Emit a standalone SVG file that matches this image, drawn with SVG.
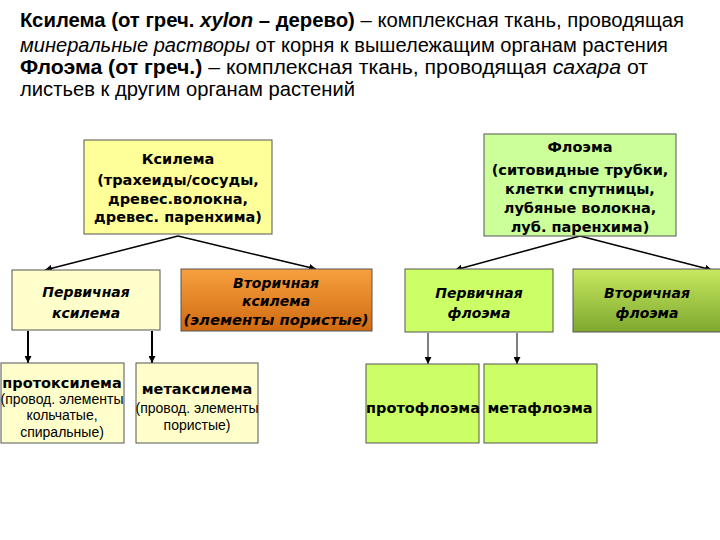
<svg xmlns="http://www.w3.org/2000/svg" width="720" height="540" viewBox="0 0 720 540">
<defs>
<linearGradient id="gOr" x1="0" y1="0" x2="0" y2="1"><stop offset="0" stop-color="#F7A040"/><stop offset="1" stop-color="#D06A10"/></linearGradient>
<linearGradient id="gGr" x1="0" y1="0" x2="0" y2="1"><stop offset="0" stop-color="#C8E860"/><stop offset="1" stop-color="#7DA82E"/></linearGradient>
<marker id="ah" viewBox="0 0 10 10" refX="10" refY="5" markerWidth="7" markerHeight="7" orient="auto" markerUnits="userSpaceOnUse"><path d="M0,0 L10,5 L0,10 z" fill="#000"/></marker>
</defs>
<style>
.hd{font-family:"Liberation Sans",Arial,sans-serif;font-size:20px;fill:#000}
.b{font-weight:bold}
.i{font-style:italic}
.bx{stroke:#555;stroke-width:1}
.vb{font-family:"DejaVu Sans",Verdana,sans-serif;font-weight:bold;font-size:14.5px;fill:#000;text-anchor:middle}
.vi{font-family:"DejaVu Sans",Verdana,sans-serif;font-weight:bold;font-style:italic;font-size:14px;fill:#000;text-anchor:middle}
.ar{font-family:"Liberation Sans",Arial,sans-serif;font-size:14px;fill:#000;text-anchor:middle}
.c{stroke:#000;fill:none}
</style>
<rect width="720" height="540" fill="#fff"/>
<g id="header">
<text class="hd" x="20" y="27" textLength="664" lengthAdjust="spacingAndGlyphs"><tspan class="b">Ксилема (от греч. </tspan><tspan class="b i">xylon</tspan><tspan class="b"> – дерево)</tspan> – комплексная ткань,  проводящая</text>
<text class="hd" x="20" y="52" textLength="648" lengthAdjust="spacingAndGlyphs"><tspan class="i">минеральные растворы</tspan> от корня к вышележащим органам растения</text>
<text class="hd" x="20" y="74" textLength="628" lengthAdjust="spacingAndGlyphs"><tspan class="b">Флоэма (от греч.)</tspan> – комплексная ткань,  проводящая <tspan class="i">сахара</tspan> от</text>
<text class="hd" x="20" y="96" textLength="335" lengthAdjust="spacingAndGlyphs">листьев к другим органам растений</text>
</g>
<g id="connectors">
<line class="c" stroke-width="1.5" x1="178" y1="236" x2="45" y2="270" marker-end="url(#ah)"/>
<line class="c" stroke-width="1.5" x1="178" y1="236" x2="316" y2="269" marker-end="url(#ah)"/>
<line class="c" stroke-width="1.5" x1="580" y1="236" x2="455" y2="270" marker-end="url(#ah)"/>
<line class="c" stroke-width="1.5" x1="580" y1="236" x2="712" y2="270" marker-end="url(#ah)"/>
<line class="c" stroke-width="2" x1="28" y1="331" x2="28" y2="363" marker-end="url(#ah)"/>
<line class="c" stroke-width="2" x1="152" y1="331" x2="152" y2="363" marker-end="url(#ah)"/>
<line class="c" stroke-width="1" x1="428" y1="333" x2="428" y2="364" marker-end="url(#ah)"/>
<line class="c" stroke-width="1" x1="517" y1="333" x2="517" y2="364" marker-end="url(#ah)"/>
</g>
<g id="xylem">
<rect class="bx" x="84" y="140" width="188" height="94" fill="#FFFF99"/>
<text class="vb" x="178" y="164" font-size="16">Ксилема</text>
<text class="vb" x="178" y="185">(трахеиды/сосуды,</text>
<text class="vb" x="178" y="204">древес.волокна,</text>
<text class="vb" x="178" y="222">древес. паренхима)</text>
</g>
<g id="phloem">
<rect class="bx" x="484" y="134" width="192" height="102" fill="#CCFF99"/>
<text class="vb" x="580" y="152" font-size="16">Флоэма</text>
<text class="vb" x="580" y="175">(ситовидные трубки,</text>
<text class="vb" x="580" y="194">клетки спутницы,</text>
<text class="vb" x="580" y="213">лубяные волокна,</text>
<text class="vb" x="580" y="232">луб. паренхима)</text>
</g>
<g id="primary-xylem">
<rect class="bx" x="12" y="270" width="148" height="60" fill="#FFFFCC"/>
<text class="vi" x="86" y="297">Первичная</text>
<text class="vi" x="86" y="318">ксилема</text>
</g>
<g id="secondary-xylem">
<rect class="bx" x="181" y="269" width="191" height="62" fill="url(#gOr)"/>
<text class="vi" x="276" y="288">Вторичная</text>
<text class="vi" x="276" y="306">ксилема</text>
<text class="vi" x="276" y="325" textLength="185" lengthAdjust="spacingAndGlyphs">(элементы пористые)</text>
</g>
<g id="primary-phloem">
<rect class="bx" x="405" y="269" width="148" height="63" fill="#CCFF66"/>
<text class="vi" x="479" y="298">Первичная</text>
<text class="vi" x="479" y="318">флоэма</text>
</g>
<g id="secondary-phloem">
<rect class="bx" x="573" y="269" width="150" height="63" fill="url(#gGr)"/>
<text class="vi" x="647" y="298">Вторичная</text>
<text class="vi" x="647" y="318">флоэма</text>
</g>
<g id="protoxylem">
<rect class="bx" x="1" y="363" width="123" height="80" fill="#FFFFCC"/>
<text class="vb" x="62" y="388" font-size="15">протоксилема</text>
<text class="ar" x="62" y="404">(провод. элементы</text>
<text class="ar" x="62" y="420">кольчатые,</text>
<text class="ar" x="62" y="437">спиральные)</text>
</g>
<g id="metaxylem">
<rect class="bx" x="136" y="363" width="122" height="80" fill="#FFFFCC"/>
<text class="vb" x="197" y="394" font-size="15">метаксилема</text>
<text class="ar" x="197" y="413">(провод. элементы</text>
<text class="ar" x="197" y="430">пористые)</text>
</g>
<g id="protophloem">
<rect class="bx" x="366" y="364" width="113" height="79" fill="#CCFF66"/>
<text class="vb" x="423" y="413" font-size="15">протофлоэма</text>
</g>
<g id="metaphloem">
<rect class="bx" x="484" y="364" width="113" height="79" fill="#CCFF66"/>
<text class="vb" x="540" y="413" font-size="15">метафлоэма</text>
</g>
</svg>
